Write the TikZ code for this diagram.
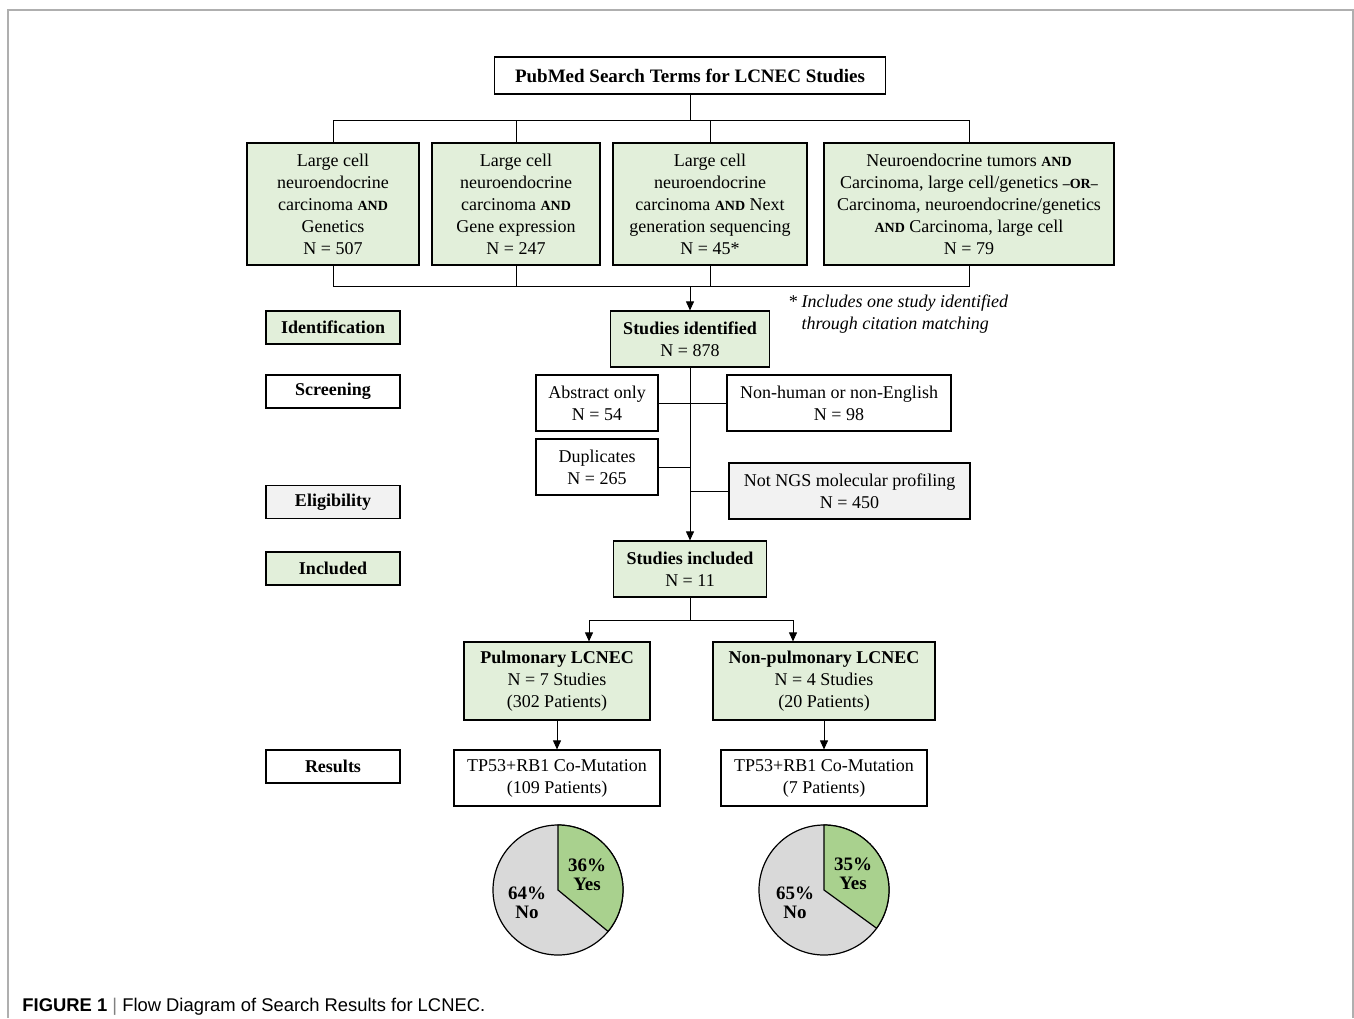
\documentclass[tikz,border=0pt]{standalone}
\usepackage{fontspec}
\setmainfont{Liberation Serif}
\setsansfont{Liberation Sans}
\usepackage{xcolor}
\usepackage{tikz}
\usetikzlibrary{arrows.meta}
\definecolor{boxgreen}{RGB}{226, 239, 218}
\definecolor{boxgray}{RGB}{242, 242, 242}
\definecolor{piegreen}{RGB}{169, 209, 142}
\definecolor{piegray}{RGB}{217, 217, 217}
\definecolor{framegray}{RGB}{175, 175, 175}
\newcommand{\kw}[1]{{\fontsize{7}{8}\selectfont\bfseries #1}}

\begin{document}
\begin{tikzpicture}[x=0.5pt, y=-0.5pt,
    box/.style={draw, line width=0.6pt, align=center, inner sep=1pt,
        font=\fontsize{9}{11}\selectfont},
    stage/.style={box, minimum width=67pt, minimum height=16.5pt, font=\fontsize{9}{11}\selectfont\bfseries},
    arr/.style={-{Triangle[length=4.5pt, width=4pt]}},
    pielabel/.style={align=center, font=\fontsize{9.5}{9.5}\selectfont\bfseries}]
    \useasboundingbox (0,0) rectangle (1354,1018);
    \draw[framegray, line width=1pt] (8,1018) -- (8,10) -- (1353,10) -- (1353,1018);

    % Search terms
    \node[box, minimum width=195.5pt, minimum height=18.5pt, font=\fontsize{9.5}{11}\selectfont\bfseries] (pubmed) at (690,75.5) {PubMed Search Terms for LCNEC Studies};
    \node[box, fill=boxgreen, minimum width=86pt, minimum height=61pt] (terma) at (333,204) {Large cell\\neuroendocrine\\carcinoma \kw{AND}\\Genetics\\N = 507};
    \node[box, fill=boxgreen, minimum width=84pt, minimum height=61pt] (termb) at (516,204) {Large cell\\neuroendocrine\\carcinoma \kw{AND}\\Gene expression\\N = 247};
    \node[box, fill=boxgreen, minimum width=97pt, minimum height=61pt] (termc) at (710,204) {Large cell\\neuroendocrine\\carcinoma \kw{AND} Next\\generation sequencing\\N = 45*};
    \node[box, fill=boxgreen, minimum width=145pt, minimum height=61pt] (termd) at (969,204) {Neuroendocrine tumors \kw{AND}\\Carcinoma, large cell/genetics \kw{--OR--}\\Carcinoma, neuroendocrine/genetics\\\kw{AND} Carcinoma, large cell\\N = 79};
    \coordinate (split) at (690,120);
    \coordinate (merge) at (690,286);
    \draw (pubmed) -- (split);
    \draw (terma.north) -- (terma.north |- split) -| (termd.north);
    \draw (termb.north) -- (termb.north |- split);
    \draw (termc.north) -- (termc.north |- split);
    \draw (terma.south) -- (terma.south |- merge) -| (termd.south);
    \draw (termb.south) -- (termb.south |- merge);
    \draw (termc.south) -- (termc.south |- merge);

    % Stages
    \node[stage, fill=boxgreen] (stident) at (333,327.5) {Identification};
    \node[stage] (stscreen) at (333,391.5) {Screening};
    \node[stage, fill=boxgray] (stelig) at (333,502) {Eligibility};
    \node[stage, fill=boxgreen] (stincl) at (333,568.5) {Included};
    \node[stage] (stres) at (333,766.5) {Results};

    % Screening flow
    \node[box, fill=boxgreen, minimum width=79.5pt, minimum height=28pt] (ident) at (690,339) {\textbf{Studies identified}\\N = 878};
    \node[anchor=west, align=left, font=\fontsize{9}{11}\selectfont\itshape] (note) at (781,314) {* Includes one study identified\\\phantom{* }through citation matching};
    \node[box, minimum width=61pt, minimum height=28pt] (abstr) at (597,403) {Abstract only\\N = 54};
    \node[box, minimum width=112pt, minimum height=28pt] (nonhum) at (839,403) {Non-human or non-English\\N = 98};
    \node[box, minimum width=61pt, minimum height=28pt] (dupl) at (597,467) {Duplicates\\N = 265};
    \node[box, fill=boxgray, minimum width=120.5pt, minimum height=28pt] (notngs) at (849.5,491) {Not NGS molecular profiling\\N = 450};
    \node[box, fill=boxgreen, minimum width=76.5pt, minimum height=28pt] (incl) at (690,569) {\textbf{Studies included}\\N = 11};
    \draw[arr] (merge) -- (ident.north);
    \draw[arr] (ident.south) -- (incl.north);
    \draw (abstr.east) -- (nonhum.west);
    \draw (dupl.east) -- (dupl.east -| ident.south);
    \draw (notngs.west) -- (notngs.west -| ident.south);

    % Subgroups
    \node[box, fill=boxgreen, minimum width=93pt, minimum height=39pt] (pulm) at (557,681) {\textbf{Pulmonary LCNEC}\\N = 7 Studies\\(302 Patients)};
    \node[box, fill=boxgreen, minimum width=111pt, minimum height=39pt] (nonpulm) at (824,681) {\textbf{Non-pulmonary LCNEC}\\N = 4 Studies\\(20 Patients)};
    \node[box, minimum width=103pt, minimum height=28pt] (mutpulm) at (557,778) {TP53+RB1 Co-Mutation\\(109 Patients)};
    \node[box, minimum width=103pt, minimum height=28pt] (mutnon) at (824,778) {TP53+RB1 Co-Mutation\\(7 Patients)};
    \coordinate (splitl) at (589,620);
    \coordinate (splitr) at (793,620);
    \draw (incl.south) -- (incl.south |- splitl);
    \draw (splitl) -- (splitr);
    \draw[arr] (splitl) -- (splitl |- pulm.north);
    \draw[arr] (splitr) -- (splitr |- nonpulm.north);
    \draw[arr] (pulm.south) -- (mutpulm.north);
    \draw[arr] (nonpulm.south) -- (mutnon.north);

    % Pies
    \coordinate (piel) at (558,890);
    \coordinate (pier) at (824,890);
    \draw[fill=piegray, line width=0.6pt] (piel) circle[radius=32.5pt];
    \draw[fill=piegreen, line width=0.6pt] (piel) -- ++(90:32.5pt) arc[start angle=90, end angle=-39.6, radius=32.5pt] -- cycle;
    \draw[fill=piegray, line width=0.6pt] (pier) circle[radius=32.5pt];
    \draw[fill=piegreen, line width=0.6pt] (pier) -- ++(90:32.5pt) arc[start angle=90, end angle=-36, radius=32.5pt] -- cycle;
    \node[pielabel] (yesl) at (587,875) {36\%\\Yes};
    \node[pielabel] (nol) at (527,903) {64\%\\No};
    \node[pielabel] (yesr) at (853,874) {35\%\\Yes};
    \node[pielabel] (nor) at (795,903) {65\%\\No};

    % Caption
    \node[anchor=base west, inner sep=0pt, font=\sffamily\fontsize{9.2}{11}\selectfont] (caption) at (22,1011) {\textbf{FIGURE 1} \textcolor{gray}{|} Flow Diagram of Search Results for LCNEC.};
\end{tikzpicture}
\end{document}
